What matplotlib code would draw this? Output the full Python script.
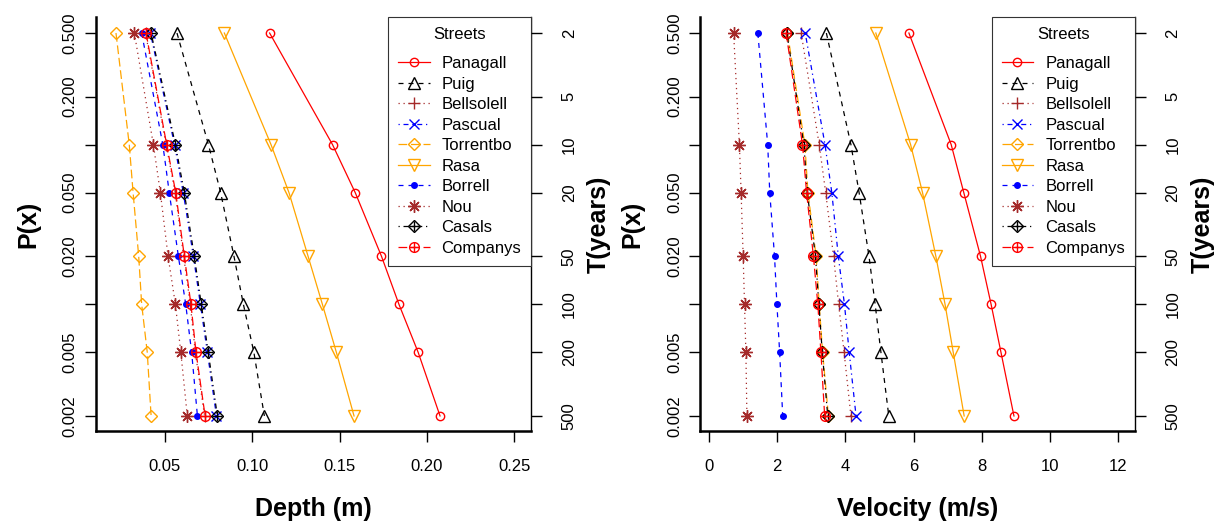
import matplotlib.pyplot as plt

plt.rcParams['font.family'] = ['Liberation Sans', 'DejaVu Sans']

# return periods (years) of the plotted points
T_points = [2, 10, 20, 50, 100, 200, 500]
T_ticks = [2, 5, 10, 20, 50, 100, 200, 500]
P_ticks = [0.5, 0.2, 0.1, 0.05, 0.02, 0.01, 0.005, 0.002]
P_labels = ["0.500", "0.200", "", "0.050", "0.020", "", "0.005", "0.002"]

streets = ["Panagall", "Puig", "Bellsolell", "Pascual", "Torrentbo",
           "Rasa", "Borrell", "Nou", "Casals", "Companys"]

# depth (m)
depth_panagall = [0.110, 0.146, 0.159, 0.174, 0.184, 0.195, 0.2075]
depth_puig = [0.057, 0.075, 0.082, 0.0896, 0.095, 0.101, 0.107]
depth_bellsolell = [0.039, 0.0508, 0.056, 0.0608, 0.0646, 0.0675, 0.0728]
depth_pascual = [0.0418, 0.0556, 0.0606, 0.0664, 0.0704, 0.0744, 0.0796]
depth_torrentbo = [0.0221, 0.0297, 0.0319, 0.0351, 0.0368, 0.040, 0.0422]
depth_rasa = [0.0841, 0.1108, 0.1211, 0.132, 0.1402, 0.1482, 0.1583]
depth_borrell = [0.0368, 0.0489, 0.0526, 0.0578, 0.062, 0.0654, 0.0687]
depth_nou = [0.0326, 0.0435, 0.0475, 0.0519, 0.0561, 0.0592, 0.0629]
depth_casals = [0.0422, 0.0561, 0.0612, 0.0669, 0.0709, 0.0749, 0.0801]
depth_companys = [0.0393, 0.0511, 0.0563, 0.0612, 0.065, 0.0679, 0.0731]

# velocity (m/s)
vel_panagall = [5.86, 7.10, 7.47, 7.96, 8.27, 8.56, 8.94]
vel_puig = [3.44, 4.16, 4.40, 4.69, 4.87, 5.04, 5.27]
vel_bellsolell = [2.70, 3.23, 3.42, 3.65, 3.80, 3.96, 4.16]
vel_pascual = [2.82, 3.40, 3.60, 3.79, 3.97, 4.11, 4.31]
vel_torrentbo = [2.30, 2.81, 2.90, 3.14, 3.23, 3.33, 3.50]
vel_rasa = [4.89, 5.91, 6.26, 6.65, 6.92, 7.16, 7.48]
vel_borrell = [1.43, 1.72, 1.78, 1.92, 1.99, 2.07, 2.16]
vel_nou = [0.72, 0.89, 0.94, 1.00, 1.04, 1.08, 1.11]
vel_casals = [2.28, 2.78, 2.88, 3.12, 3.22, 3.32, 3.48]
vel_companys = [2.26, 2.74, 2.86, 3.06, 3.19, 3.28, 3.39]

depth = [depth_panagall, depth_puig, depth_bellsolell, depth_pascual, depth_torrentbo,
         depth_rasa, depth_borrell, depth_nou, depth_casals, depth_companys]
velocity = [vel_panagall, vel_puig, vel_bellsolell, vel_pascual, vel_torrentbo,
            vel_rasa, vel_borrell, vel_nou, vel_casals, vel_companys]

brown = '#A52A2A'
colors = ['red', 'black', brown, 'blue', 'orange', 'orange', 'blue', brown, 'black', 'red']
solid = '-'
dashed = (0, (4, 4))
dotted = (0, (1, 3))
dotdash = (0, (1, 3, 4, 3))
longdash = (0, (7, 3))
styles = [solid, dashed, dotted, dotdash, longdash, solid, dashed, dotted, dotdash, longdash]
# (marker, size, filled, overlay marker)
markers = [('o', 6, False, None), ('^', 8, False, None), ('+', 9, False, None),
           ('x', 7, False, None), ('D', 6.5, False, None), ('v', 8, False, None),
           ('o', 4, True, None), ((8, 2, 0), 9, False, None), ('D', 6.5, False, '+'),
           ('o', 7, False, '+')]

P_points = [1.0 / t for t in T_points]
ylim = (0.00161, 0.627)

fig = plt.figure(figsize=(12.16, 5.23), dpi=100)
ax1 = fig.add_axes([0.0787, 0.1759, 0.3582, 0.791])
ax2 = fig.add_axes([0.5757, 0.1759, 0.3577, 0.791])


def panel(ax, data, xlim, xticks, xticklabels, xlabel):
    handles = []
    for name, vals, c, ls, (m, ms, filled, extra) in zip(streets, data, colors, styles, markers):
        fc = c if filled else 'none'
        ln, = ax.plot(vals, P_points, color=c, linestyle=ls, linewidth=0.9,
                      marker=m, markersize=ms, markerfacecolor=fc,
                      markeredgecolor=c, markeredgewidth=1.0)
        h = ln
        if extra is not None:
            ov, = ax.plot(vals, P_points, linestyle='none', marker=extra,
                          markersize=ms + 0.5, markeredgecolor=c, markeredgewidth=1.0)
            h = (ln, ov)
        handles.append(h)
    ax.set_yscale('log')
    ax.set_ylim(*ylim)
    ax.set_xlim(*xlim)
    ax.set_xticks(xticks)
    ax.set_xticklabels(xticklabels)
    ax.set_yticks(P_ticks)
    ax.set_yticklabels(P_labels, rotation=90, va='center')
    ax.minorticks_off()
    ax.tick_params(axis='both', direction='out', length=8, width=1, labelsize=12, pad=5)
    ax.tick_params(axis='x', pad=12)
    ax.set_xlabel(xlabel, fontsize=18, fontweight='bold', labelpad=17)
    ax.set_ylabel('P(x)', fontsize=18, fontweight='bold', labelpad=16)
    ax.spines['top'].set_visible(False)
    ax.spines['left'].set_linewidth(1.8)
    ax.spines['bottom'].set_linewidth(1.8)
    ax.spines['right'].set_linewidth(1.0)

    axr = ax.twinx()
    axr.set_yscale('log')
    axr.set_ylim(*ylim)
    axr.set_yticks([1.0 / t for t in T_ticks])
    axr.set_yticklabels([str(t) for t in T_ticks], rotation=90, va='center')
    axr.minorticks_off()
    axr.tick_params(axis='y', direction='out', length=8, width=1, labelsize=12, pad=14)
    axr.set_ylabel('T(years)', fontsize=18, fontweight='bold', rotation=90, labelpad=7)
    for s in axr.spines.values():
        s.set_visible(False)

    leg = ax.legend(handles, streets, title='Streets', loc='upper right',
                    borderaxespad=0, fontsize=12, title_fontsize=12,
                    handlelength=1.9, handletextpad=0.72, labelspacing=0.33,
                    frameon=True, fancybox=False, edgecolor='#333333', framealpha=1,
                    borderpad=0.6)
    leg._legend_box.sep = 10
    leg.get_frame().set_linewidth(0.8)
    leg.set_zorder(5)


panel(ax1, depth, (0.0105, 0.2597), [0.05, 0.10, 0.15, 0.20, 0.25],
      ["0.05", "0.10", "0.15", "0.20", "0.25"], 'Depth (m)')
panel(ax2, velocity, (-0.264, 12.49), [0, 2, 4, 6, 8, 10, 12],
      ["0", "2", "4", "6", "8", "10", "12"], 'Velocity (m/s)')

fig.savefig('out.png', dpi=100)
